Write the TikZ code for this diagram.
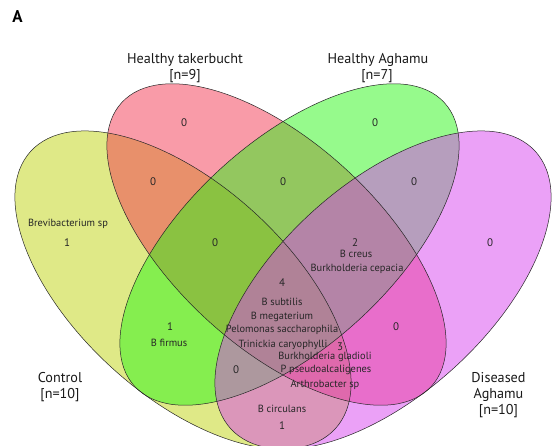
\documentclass[tikz,border=0pt]{standalone}
\usepackage{fontspec}
\setmainfont{PT Sans}
\definecolor{cA}{RGB}{191,211,15}
\definecolor{cB}{RGB}{243,55,81}
\definecolor{cC}{RGB}{45,245,25}
\definecolor{cD}{RGB}{215,67,239}
\begin{document}
\begin{tikzpicture}[x=1pt,y=-1pt,
  setfill/.style={fill opacity=0.5,draw=none},
  setline/.style={draw=black!85,line width=0.5pt},
  num/.style={font=\fontsize{11}{13}\selectfont,anchor=base,inner sep=0pt,text=black!85},
  sp/.style={font=\fontsize{10.4}{12}\selectfont,anchor=base,inner sep=0pt,text=black!85},
  cat/.style={font=\fontsize{14.2}{16}\selectfont,anchor=base,inner sep=0pt,text=black!90}]
\useasboundingbox (0,0) rectangle (553,445);
\begin{scope}
\clip (0,0) rectangle (553,445);
\fill[setfill,cA,rotate around={-42.3:(183,290)}] (183,290) ellipse [x radius=206pt,y radius=105.4pt];
\fill[setfill,cB,rotate around={-42.5:(276.5,244.5)}] (276.5,244.5) ellipse [x radius=210pt,y radius=102.4pt];
\fill[setfill,cC,rotate around={42.5:(289.5,244.5)}] (289.5,244.5) ellipse [x radius=210pt,y radius=102.4pt];
\fill[setfill,cD,rotate around={42.3:(383,290)}] (383,290) ellipse [x radius=206pt,y radius=105.4pt];
\draw[setline,rotate around={-42.3:(183,290)}] (183,290) ellipse [x radius=206pt,y radius=105.4pt];
\draw[setline,rotate around={-42.5:(276.5,244.5)}] (276.5,244.5) ellipse [x radius=210pt,y radius=102.4pt];
\draw[setline,rotate around={42.5:(289.5,244.5)}] (289.5,244.5) ellipse [x radius=210pt,y radius=102.4pt];
\draw[setline,rotate around={42.3:(383,290)}] (383,290) ellipse [x radius=206pt,y radius=105.4pt];
\end{scope}
% panel letter
\node[anchor=base,inner sep=0pt,font=\fontsize{17}{19}\selectfont\bfseries] (panel) at (17.5,22) {A};
% category labels
\node[cat] (tB1) at (185,63) {Healthy takerbucht};
\node[cat] (tB2) at (185,79) {[n=9]};
\node[cat] (tC1) at (378,63) {Healthy Aghamu};
\node[cat] (tC2) at (377,79) {[n=7]};
\node[cat] (tA1) at (60,382) {Control};
\node[cat] (tA2) at (60,398) {[n=10]};
\node[cat] (tD1) at (498.5,382) {Diseased};
\node[cat] (tD2) at (498.5,398) {Aghamu};
\node[cat] (tD3) at (498.5,414) {[n=10]};
% region counts
\node[num] (nA) at (67,246) {1};
\node[num] (nB) at (184,126) {0};
\node[num] (nC) at (375,126) {0};
\node[num] (nD) at (490,246) {0};
\node[num] (nAB) at (153,185) {0};
\node[num] (nBC) at (283,185) {0};
\node[num] (nCD) at (414,185) {0};
\node[num] (nABC) at (215,246) {0};
\node[num] (nBCD) at (355,246) {2};
\node[num] (nABCD) at (282,286) {4};
\node[num] (nAC) at (170,330) {1};
\node[num] (nBD) at (396,330) {0};
\node[num] (nACD) at (236,373) {0};
\node[num] (nABD) at (340,350) {3};
\node[num] (nAD) at (282,429) {1};
% species
\node[sp] (s1) at (68,226.5) {Brevibacterium sp};
\node[sp] (s2) at (356,257.5) {B creus};
\node[sp] (s3) at (357,271.5) {Burkholderia cepacia};
\node[sp] (s4) at (282,305.5) {B subtilis};
\node[sp] (s5) at (282,319.5) {B megaterium};
\node[sp] (s6) at (282,332.5) {Pelomonas saccharophila};
\node[sp] (s7) at (283,347.5) {Trinickia caryophylli};
\node[sp] (s8) at (169,346.5) {B firmus};
\node[sp] (s9) at (325,359.5) {Burkholderia gladioli};
\node[sp] (s10) at (326,372.5) {P pseudoalcaligenes};
\node[sp] (s11) at (325,387.5) {Arthrobacter sp};
\node[sp] (s12) at (282,412.5) {B circulans};
\end{tikzpicture}
\end{document}
